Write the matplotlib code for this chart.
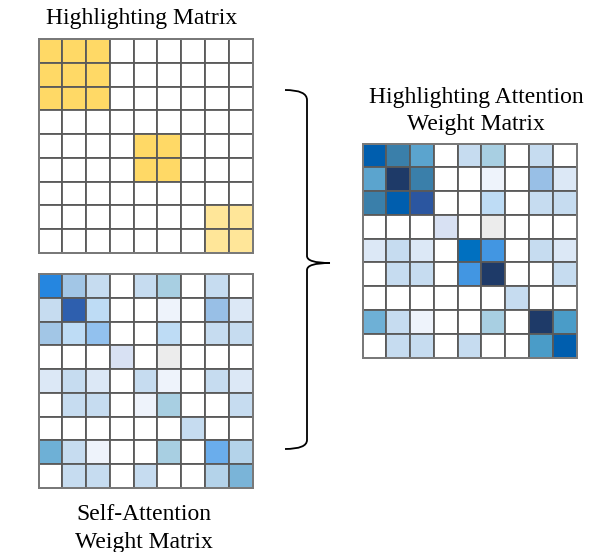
import matplotlib.pyplot as plt
from matplotlib.patches import Rectangle, PathPatch
from matplotlib.path import Path

# shade codes -> colours
palette = {
    '.': '#FFFFFF', 'a': '#EEF3FB', 'b': '#DCE8F6', 'c': '#C6DCF0',
    'd': '#BEDCF5', 'e': '#A8CFE2', 'f': '#A2C6E6', 'g': '#98BFE6',
    'h': '#92C1EE', 'i': '#B4D3EA', 'j': '#6EB0D6', 'k': '#7AB4D8',
    'l': '#6AADEC', 'm': '#2586E0', 'n': '#2E5FAE', 'o': '#D8E1F3',
    'p': '#ECECEC', 'q': '#5BA4CE', 'r': '#3A7FAA', 's': '#1E3A68',
    't': '#005EAE', 'u': '#2B56A0', 'v': '#0070C0', 'w': '#4296E2',
    'x': '#4A9CC8', 'Y': '#FFD966', 'Z': '#FFE699',
}

highlight_matrix = [
    "YYY......",
    "YYY......",
    "YYY......",
    ".........",
    "....YY...",
    "....YY...",
    ".........",
    ".......ZZ",
    ".......ZZ",
]

self_attention = [
    "mfc.ce.c.",
    "cnd..a.gb",
    "fdh..d.cc",
    "...o.p...",
    "bcb.ca.cb",
    ".cc.ae..c",
    "......c..",
    "jca..e.li",
    ".cc.c..ik",
]

highlight_attention = [
    "trq.ce.c.",
    "qsr..a.gb",
    "rtu..d.cc",
    "...o.p...",
    "bcb.vw.cb",
    ".cc.ws..c",
    "......c..",
    "jca..e.sx",
    ".cc.c..xt",
]

titles = {
    'hm': ["Highlighting Matrix"],
    'sa': ["Self-Attention", "Weight Matrix"],
    'ha': ["Highlighting Attention", "Weight Matrix"],
}

W, H = 595, 552
fig = plt.figure(figsize=(W / 100, H / 100), dpi=100)
ax = fig.add_axes([0, 0, 1, 1])
ax.set_xlim(0, W)
ax.set_ylim(H, 0)
ax.axis('off')

serif = ['Liberation Serif', 'DejaVu Serif']


def draw_grid(rows, left, top, size):
    n = len(rows)
    cell = size / n
    for i, row in enumerate(rows):
        for j, code in enumerate(row):
            ax.add_patch(Rectangle((left + j * cell, top + i * cell), cell, cell,
                                   facecolor=palette[code], edgecolor='#5a5a5a',
                                   linewidth=1.3))
    ax.add_patch(Rectangle((left, top), size, size, fill=False,
                           edgecolor='#7a7a7a', linewidth=1.4))


draw_grid(highlight_matrix, 38.5, 39, 214)
draw_grid(self_attention, 38.5, 274, 214)
draw_grid(highlight_attention, 362.5, 143.5, 214)

ax.text(142, 24, titles['hm'][0], ha='center', va='baseline', fontsize=17, family=serif)
for k, line in enumerate(titles['ha']):
    ax.text(476, 103 + k * 27, line, ha='center', va='baseline', fontsize=17, family=serif)
for k, line in enumerate(titles['sa']):
    ax.text(144, 520 + k * 28, line, ha='center', va='baseline', fontsize=17, family=serif)

# curly brace
verts = [(285, 90), (307, 90), (307, 100), (307, 256), (307, 263), (330, 263),
         (330, 263), (307, 263), (307, 270), (307, 440), (307, 449), (285, 449)]
codes = [Path.MOVETO, Path.CURVE3, Path.CURVE3, Path.LINETO, Path.CURVE3, Path.CURVE3,
         Path.MOVETO, Path.CURVE3, Path.CURVE3, Path.LINETO, Path.CURVE3, Path.CURVE3]
ax.add_patch(PathPatch(Path(verts, codes), fill=False, edgecolor='black', linewidth=1.3))

fig.savefig('out.png', dpi=100)
